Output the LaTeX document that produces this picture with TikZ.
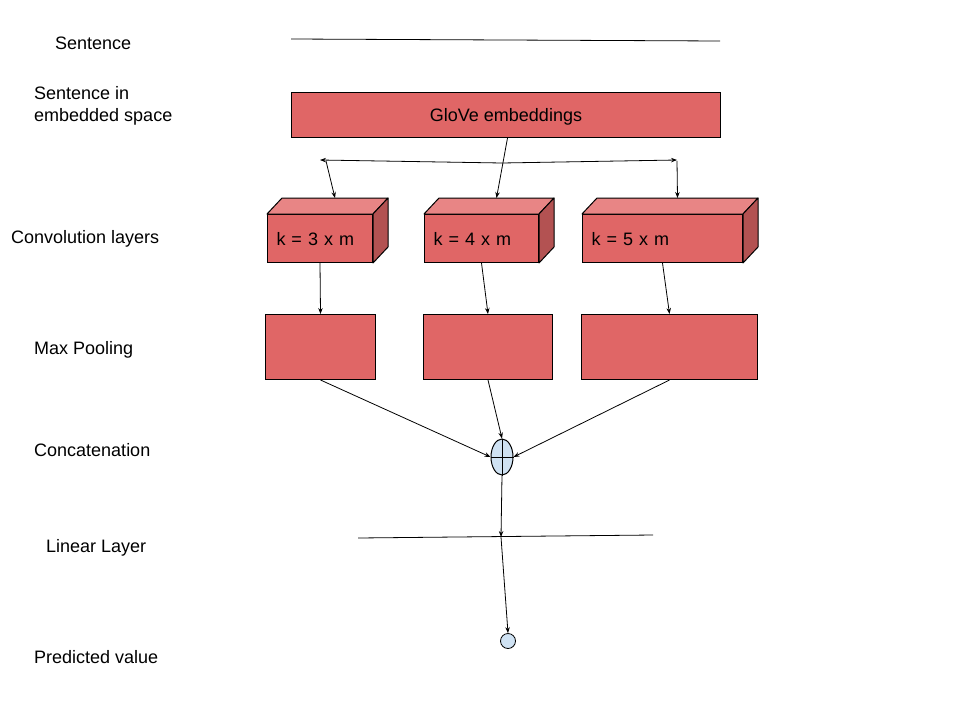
\documentclass[tikz,border=0pt]{standalone}
\usepackage{fontspec}
\setmainfont{Liberation Sans}
\usetikzlibrary{arrows.meta,shapes.geometric}
\definecolor{boxred}{HTML}{E06666}
\definecolor{boxtop}{HTML}{E88585}
\definecolor{boxside}{HTML}{B35252}
\definecolor{bubble}{HTML}{CFE2F3}
\begin{document}
\begin{tikzpicture}[x=1pt,y=-1pt,font=\fontsize{18}{22}\selectfont,
  lab/.style={anchor=west,inner sep=0pt,align=left},
  redbox/.style={draw=black,fill=boxred,line width=1pt,inner sep=0pt,anchor=north west},
  textbox/.style={redbox,text height=13pt,text depth=0pt},
  convbox/.style={textbox,inner xsep=9pt,align=left,minimum height=48pt},
  topface/.style={draw=black,fill=boxtop,line width=1pt,line join=round},
  sideface/.style={draw=black,fill=boxside,line width=1pt,line join=round},
  conn/.style={line width=0.8pt,-{Stealth[length=6pt,width=4.5pt]}},
  plainline/.style={line width=0.8pt}]
\useasboundingbox[fill=white] (0,0) rectangle (960,720);

% labels
\node[lab] (l1) at (55,43) {Sentence};
\node[lab] (l2) at (34,106) {Sentence in\\embedded space};
\node[lab] (l3) at (11,239) {Convolution layers};
\node[lab] (l4) at (34,350) {Max Pooling};
\node[lab] (l5) at (34,450) {Concatenation};
\node[lab] (l6) at (46,548) {Linear Layer};
\node[lab] (l7) at (34,657) {Predicted value};

% sentence line
\coordinate (s1) at (291,39);
\coordinate (s2) at (720,41);
\draw[plainline] (s1) -- (s2);

% GloVe
\node[textbox,minimum width=429pt,minimum height=45pt] (glove) at (291,92) {GloVe embeddings};

% conv boxes
\node[convbox,text width=87pt] (c1) at (267,214) {k = 3 x m};
\node[convbox,text width=96pt] (c2) at (424,214) {k = 4 x m};
\node[convbox,text width=142pt] (c3) at (582,214) {k = 5 x m};
\foreach \c in {c1,c2,c3}{
  \draw[topface] (\c.north west) -- ([shift={(15,-16)}]\c.north west) -- ([shift={(15,-16)}]\c.north east) -- (\c.north east) -- cycle;
  \draw[sideface] (\c.north east) -- ([shift={(15,-16)}]\c.north east) -- ([shift={(15,-16)}]\c.south east) -- (\c.south east) -- cycle;
}

% distribution arrows
\coordinate (j) at (502,163);
\coordinate (jl) at (320,160);
\coordinate (jr) at (677,160);
\coordinate (jl1) at (326,161);
\coordinate (jr1) at (677,161);
\draw[conn] ([xshift=1.5pt]glove.south) -- ([shift={(15,-16)}]c2.north);
\draw[conn] (j) -- (jl);
\draw[conn] (j) -- (jr);
\draw[conn] (jl1) -- ([shift={(15,-16)}]c1.north);
\draw[conn] (jr1) -- ([shift={(15,-16)}]c3.north);

% pooling boxes
\node[redbox,minimum width=110pt,minimum height=65pt] (p1) at (265,314) {};
\node[redbox,minimum width=129pt,minimum height=65pt] (p2) at (423,314) {};
\node[redbox,minimum width=176pt,minimum height=65pt] (p3) at (581,314) {};
\draw[conn] (c1.south) -- (p1.north);
\draw[conn] (c2.south) -- (p2.north);
\draw[conn] (c3.south) -- (p3.north);

% concatenation
\node[ellipse,draw=black,fill=bubble,line width=1pt,minimum width=22pt,minimum height=36pt,inner sep=0pt] (plus) at (502,457) {};
\draw[plainline] (plus.north) -- (plus.south);
\draw[plainline] (plus.west) -- (plus.east);
\draw[conn] (p1.south) -- (plus.west);
\draw[conn] (p2.south) -- (plus.north);
\draw[conn] (p3.south) -- (plus.east);

% linear layer
\coordinate (ll1) at (358,538);
\coordinate (ll2) at (653,535);
\coordinate (lx) at (501,537);
\draw[plainline] (ll1) -- (ll2);
\draw[conn] (plus.south) -- (lx);

% predicted
\node[circle,draw=black,fill=bubble,line width=0.8pt,minimum size=15pt,inner sep=0pt] (pred) at (508,641) {};
\draw[conn] (lx) -- (pred.north);
\end{tikzpicture}
\end{document}
